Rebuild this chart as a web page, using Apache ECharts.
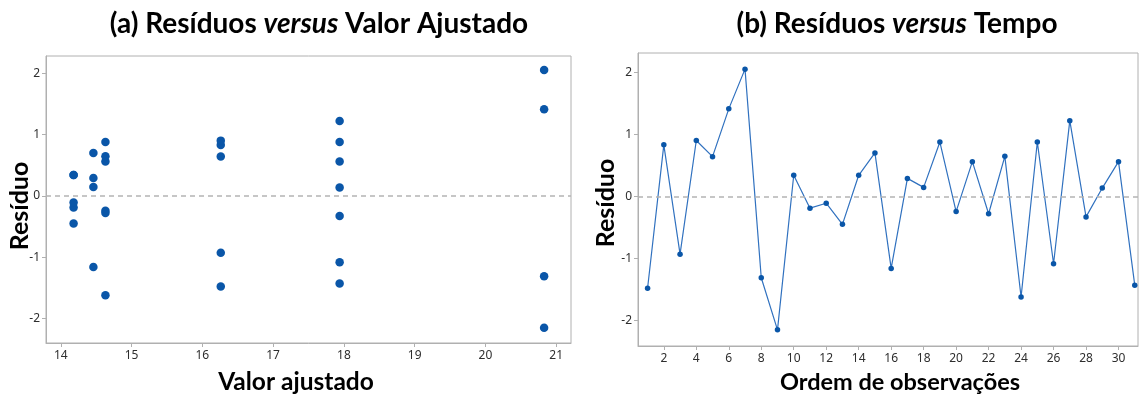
<!DOCTYPE html>
<html>
<head>
<meta charset="utf-8">
<script src="https://cdn.jsdelivr.net/npm/echarts@6/dist/echarts.min.js"></script>
<style>
  html, body { margin: 0; padding: 0; background: #ffffff; }
  #chart { width: 1139px; height: 397px; }
</style>
</head>
<body>
<div id="chart"></div>
<script>
// Observation order (run sequence)
const order = [1, 2, 3, 4, 5, 6, 7, 8, 9, 10, 11, 12, 13, 14, 15, 16, 17, 18, 19, 20,
               21, 22, 23, 24, 25, 26, 27, 28, 29, 30, 31];

// Fitted value of each observation
const fitted = [16.26, 16.26, 16.26, 16.26, 16.26,
                20.83, 20.83, 20.83, 20.83,
                14.18, 14.18, 14.18, 14.18, 14.18,
                14.46, 14.46, 14.46, 14.46,
                14.63, 14.63, 14.63, 14.63, 14.63, 14.63,
                17.94, 17.94, 17.94, 17.94, 17.94, 17.94, 17.94];

// Residual of each observation
const residuals = [-1.48, 0.83, -0.93, 0.90, 0.64,
                   1.41, 2.05, -1.31, -2.15,
                   0.34, -0.19, -0.11, -0.45, 0.34,
                   0.70, -1.16, 0.29, 0.145,
                   0.876, -0.245, 0.56, -0.28, 0.645, -1.62,
                   0.876, -1.085, 1.22, -0.33, 0.134, 0.56, -1.43];

// Tick labels
const fittedTicks = [14, 15, 16, 17, 18, 19, 20, 21];
const orderTicks = [2, 4, 6, 8, 10, 12, 14, 16, 18, 20, 22, 24, 26, 28, 30];
const residualTicks = [-2, -1, 0, 1, 2];

const titleFont = 'Lato';
const tickFont = 'Noto Sans';
const markerColor = '#0a56a8';
const lineColor = '#3071bf';
const frameColor = '#b0b0b0';

const scatterData = fitted.map((f, i) => [f, residuals[i]]);
const seqData = order.map((o, i) => [o, residuals[i]]);

function xAxisCfg(gridIndex, min, max, ticks) {
  return {
    type: 'value', gridIndex, min, max,
    axisLine: { show: true, onZero: false, lineStyle: { color: frameColor, width: 1 } },
    axisTick: { show: true, length: 4, customValues: ticks, lineStyle: { color: frameColor } },
    axisLabel: { customValues: ticks, margin: 7, color: '#2e2e2e', fontFamily: tickFont, fontSize: 12 },
    splitLine: { show: false }
  };
}
function yAxisCfg(gridIndex, min, max) {
  return {
    type: 'value', gridIndex, min, max,
    axisLine: { show: true, onZero: false, lineStyle: { color: frameColor, width: 1 } },
    axisTick: { show: true, length: 4, customValues: residualTicks, lineStyle: { color: frameColor } },
    axisLabel: { customValues: residualTicks, margin: 6, color: '#2e2e2e', fontFamily: tickFont, fontSize: 12 },
    splitLine: { show: false }
  };
}

const zeroLine = {
  silent: true,
  symbol: 'none',
  label: { show: false },
  lineStyle: { color: '#b4b4b4', type: [5, 4], width: 1.5 },
  data: [{ yAxis: 0 }]
};

function titleText(x, y, label, tail) {
  return {
    type: 'text', x, y,
    style: {
      text: '{b|' + label + ' Resíduos }{i|versus}{b| ' + tail + '}',
      textAlign: 'center', textVerticalAlign: 'middle',
      rich: {
        b: { fontFamily: titleFont, fontWeight: 'bold', fontSize: 28, fill: '#000' },
        i: { fontFamily: titleFont, fontWeight: 'bold', fontStyle: 'italic', fontSize: 28, fill: '#000' }
      }
    }
  };
}
function axisName(x, y, text, size, rotation) {
  return {
    type: 'text', x, y, rotation: rotation || 0,
    style: {
      text, textAlign: 'center', textVerticalAlign: 'middle',
      fontFamily: titleFont, fontWeight: 'bold', fontSize: size, fill: '#000'
    }
  };
}

const chart = echarts.init(document.getElementById('chart'), null, { renderer: 'canvas' });
chart.setOption({
  backgroundColor: '#ffffff',
  animation: false,
  grid: [
    { left: 46, top: 56, width: 525, height: 287, show: true, borderColor: frameColor, borderWidth: 1 },
    { left: 638, top: 53, width: 500, height: 293, show: true, borderColor: frameColor, borderWidth: 1 }
  ],
  xAxis: [
    xAxisCfg(0, 13.79, 21.21, fittedTicks),
    xAxisCfg(1, 0.41, 31.2, orderTicks)
  ],
  yAxis: [
    yAxisCfg(0, -2.4, 2.28),
    yAxisCfg(1, -2.41, 2.31)
  ],
  series: [
    {
      type: 'scatter', xAxisIndex: 0, yAxisIndex: 0,
      data: scatterData, symbol: 'circle', symbolSize: 8.5,
      itemStyle: { color: markerColor, opacity: 1 },
      markLine: zeroLine
    },
    {
      type: 'line', xAxisIndex: 1, yAxisIndex: 1,
      data: seqData, symbol: 'circle', symbolSize: 5.5, showSymbol: true,
      lineStyle: { color: lineColor, width: 1.2 },
      itemStyle: { color: markerColor, opacity: 1 },
      markLine: zeroLine
    }
  ],
  graphic: [
    titleText(319, 24, '(a)', 'Valor Ajustado'),
    titleText(897, 24, '(b)', 'Tempo'),
    axisName(296, 382, 'Valor ajustado', 24.5),
    axisName(900, 382, 'Ordem de observações', 23.5),
    axisName(20, 206, 'Resíduo', 25, Math.PI / 2),
    axisName(606, 203, 'Resíduo', 25, Math.PI / 2)
  ]
});
</script>
</body>
</html>
